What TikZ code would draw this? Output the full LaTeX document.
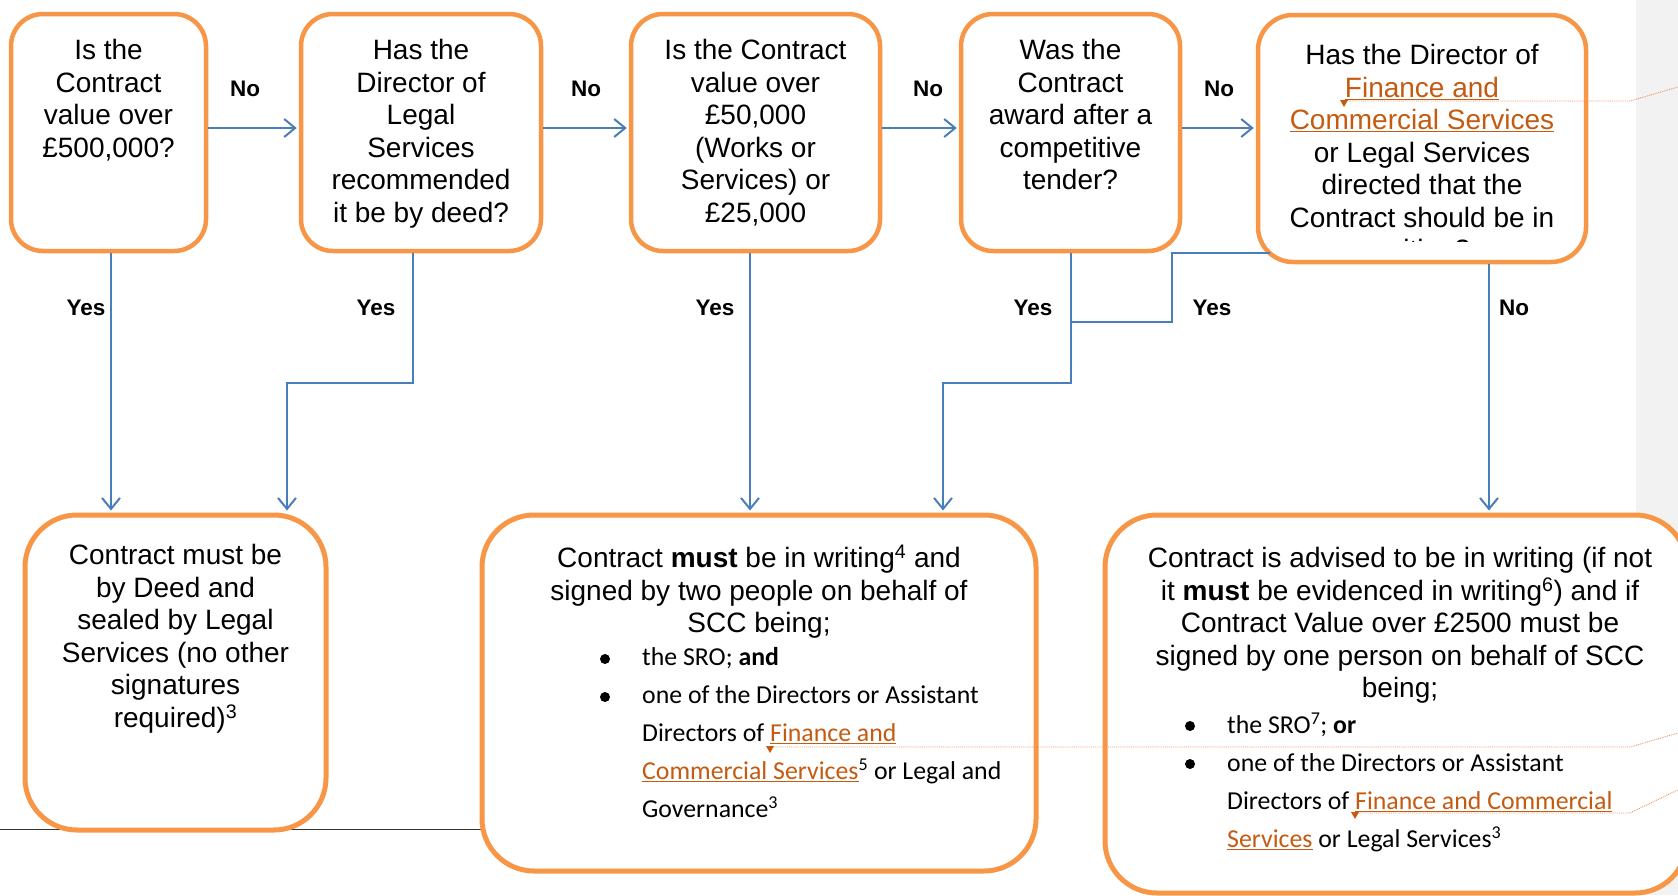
\documentclass[tikz,border=0pt]{standalone}
\usepackage{fontspec}
\setmainfont{Liberation Sans}
\newfontfamily\calfont{Carlito}
\usetikzlibrary{arrows.meta,calc}
\definecolor{boxc}{HTML}{F79646}
\definecolor{linec}{HTML}{4A7EBB}
\definecolor{linkc}{HTML}{C55A11}
\definecolor{commc}{HTML}{E9955F}
\definecolor{panelc}{HTML}{F2F2F2}
\newcommand\lnk[1]{\textcolor{linkc}{\underline{#1}}}
\begin{document}
\begin{tikzpicture}[x=1pt,y=-1pt,
  qbox/.style={draw=boxc,line width=4.5pt,fill=white,rounded corners=32pt,inner sep=0pt},
  abox/.style={draw=boxc,line width=5pt,fill=white,rounded corners=52pt,inner sep=0pt},
  qtext/.style={font=\fontsize{28}{32.5}\selectfont,align=center,inner sep=0pt,anchor=north},
  btext/.style={font=\calfont\fontsize{25.8}{38}\selectfont,align=left,inner sep=0pt,anchor=north west},
  lab/.style={font=\bfseries\fontsize{22.5}{27}\selectfont,inner sep=0pt},
  dot/.style={circle,fill=black,inner sep=0pt,minimum size=10pt},
  line/.style={draw=linec,line width=2pt},
  conn/.style={line,-{Straight Barb[length=11pt,width=18pt]},shorten >=2pt},
  comm/.style={draw=commc,line width=0.9pt,densely dotted},
  cmark/.style={fill=linkc}]
\useasboundingbox (0,0) rectangle (1678,895);
\clip (0,0) rectangle (1678,895);
% side panel and footnote rule
\fill[panelc] (1636,0) rectangle (1678,895);
\draw[black!80,line width=1pt] (0,829) -- (482,829);
% question boxes
\node[qbox,minimum width=195pt,minimum height=237pt] (b1) at (108.5,132.5) {};
\node[qbox,minimum width=240pt,minimum height=237pt] (b2) at (421,132.5) {};
\node[qbox,minimum width=249pt,minimum height=237pt] (b3) at (755.5,132.5) {};
\node[qbox,minimum width=219pt,minimum height=237pt] (b4) at (1070.5,132.5) {};
\node[qbox,rounded corners=35pt,minimum width=328pt,minimum height=247pt] (b5) at (1422,138.5) {};
% answer boxes
\node[abox,minimum width=301pt,minimum height=315pt] (bA) at (175.5,672.5) {};
\node[abox,minimum width=554pt,minimum height=356pt] (bB) at (759,693) {};
\node[abox,minimum width=582pt,minimum height=378pt] (bC) at (1396,704) {};
% question texts
\node[qtext] (t1) at (108.5,37) {\strut Is the\\Contract\\value over\\£500,000?};
\node[qtext] (t2) at (421,37) {\strut Has the\\Director of\\Legal\\Services\\recommended\\it be by deed?};
\node[qtext] (t3) at (755.5,37) {\strut Is the Contract\\value over\\£50,000\\(Works or\\Services) or\\£25,000};
\node[qtext] (t4) at (1070.5,37) {\strut Was the\\Contract\\award after a\\competitive\\tender?};
\begin{scope}
\clip (1258,15) rectangle (1586,241);
\node[qtext] (t5) at (1422,42) {\strut Has the Director of\\\lnk{Finance and}\\\lnk{Commercial Services}\\or Legal Services\\directed that the\\Contract should be in\\writing?};
\end{scope}
% answer texts
\node[qtext] (tA) at (175.5,542) {\strut Contract must be\\by Deed and\\sealed by Legal\\Services (no other\\signatures\\required)\textsuperscript{3}};
\node[qtext] (tB) at (759,545) {\strut Contract \textbf{must} be in writing\textsuperscript{4} and\\signed by two people on behalf of\\SCC being;};
\node[dot] (dB1) at (605,659) {};
\node[dot] (dB2) at (605,697) {};
\node[btext] (lB) at (642,638.4) {\strut the SRO; \textbf{and}\\one of the Directors or Assistant\\Directors of \lnk{Finance and}\\\lnk{Commercial Services}\textsuperscript{5} or Legal and\\Governance\textsuperscript{3}};
\node[qtext] (tC) at (1400,545) {\strut Contract is advised to be in writing (if not\\it \textbf{must} be evidenced in writing\textsuperscript{6}) and if\\Contract Value over £2500 must be\\signed by one person on behalf of SCC\\being;};
\node[dot] (dC1) at (1190,726) {};
\node[dot] (dC2) at (1190,764) {};
\node[btext] (lC) at (1227,706.4) {\strut the SRO\textsuperscript{7}; \textbf{or}\\one of the Directors or Assistant\\Directors of \lnk{Finance and Commercial}\\\lnk{Services} or Legal Services\textsuperscript{3}};
% labels
\node[lab] (n1) at (245,89) {No};
\node[lab] (n2) at (586,89) {No};
\node[lab] (n3) at (928,89) {No};
\node[lab] (n4) at (1219,89) {No};
\node[lab] (y1) at (86,308) {Yes};
\node[lab] (y2) at (376,308) {Yes};
\node[lab] (y3) at (715,308) {Yes};
\node[lab] (y4) at (1033,308) {Yes};
\node[lab] (y5) at (1212,308) {Yes};
\node[lab] (n5) at (1514,308) {No};
% connectors
\draw[conn] (b1.east |- 0,128) -- (b2.west |- 0,128);
\draw[conn] (b2.east |- 0,128) -- (b3.west |- 0,128);
\draw[conn] (b3.east |- 0,128) -- (b4.west |- 0,128);
\draw[conn] (b4.east |- 0,128) -- (b5.west |- 0,128);
\draw[conn] (b1.south -| 111,0) -- (bA.north -| 111,0);
\draw[conn] (b2.south -| 413,0) -- (413,383) -| (bA.north -| 287,0);
\draw[conn] (b3.south -| 750,0) -- (bB.north -| 750,0);
\draw[conn] (b4.south) -- (b4.south |- 0,383) -| (bB.north -| 943,0);
\draw[line] ($(b5.south west)+(14,-11)$) -| (1172,322) -- (b4.south |- 0,322);
\draw[conn] (b5.south -| 1489,0) -- (bC.north -| 1489,0);
% comment markers
\coordinate (m1) at (1344,101);
\coordinate (m2) at (770,747);
\coordinate (m3) at (1355,813);
\draw[comm] (m1) -- (1630,101) -- (1690,83.5);
\draw[comm] (m2) -- (1630,747) -- (1690,729.5);
\draw[comm] (m3) -- (1630,813) -- (1690,784);
\fill[cmark] ($(m1)+(-4,-1)$) -- ++(8,0) -- ++(-4,7) -- cycle;
\fill[cmark] ($(m2)+(-4,-1)$) -- ++(8,0) -- ++(-4,7) -- cycle;
\fill[cmark] ($(m3)+(-4,-1)$) -- ++(8,0) -- ++(-4,7) -- cycle;
\end{tikzpicture}
\end{document}
